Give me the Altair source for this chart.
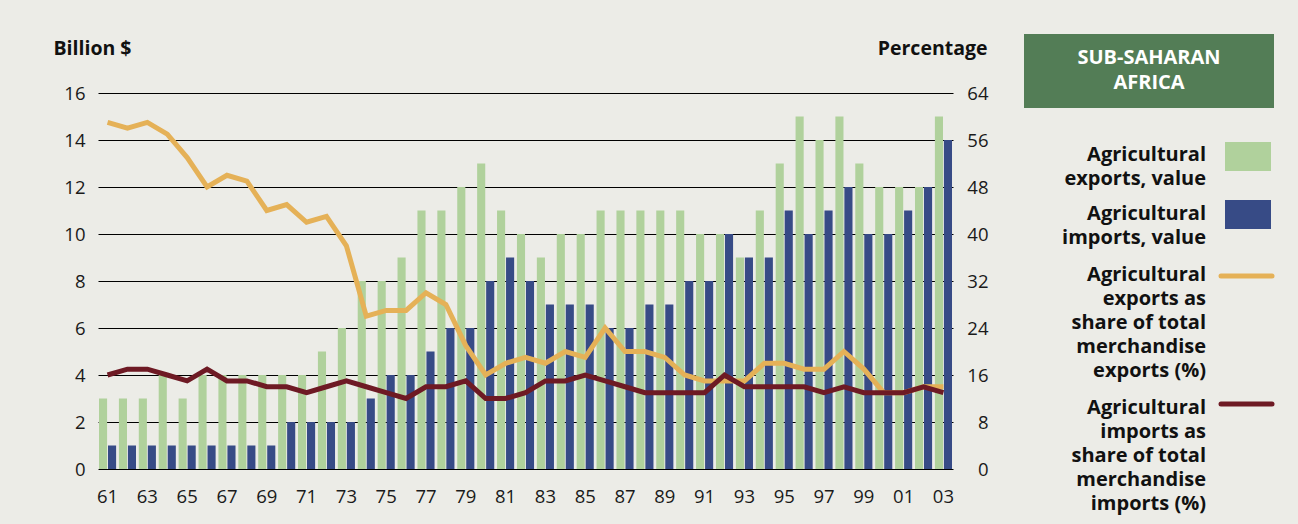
import altair as alt
import pandas as pd
import jinja2

years = list(range(1961, 2004))
exports_value = [3, 3, 3, 4, 3, 4, 4, 4, 4, 4, 4, 5, 6, 8, 8,
                 9, 11, 11, 12, 13, 11, 10, 9, 10, 10, 11, 11, 11, 11, 11,
                 10, 10, 9, 11, 13, 15, 14, 15, 13, 12, 12, 12, 15]
imports_value = [1, 1, 1, 1, 1, 1, 1, 1, 1, 2, 2, 2, 2, 3, 4,
                 4, 5, 6, 6, 8, 9, 8, 7, 7, 7, 6, 6, 7, 7, 8,
                 8, 10, 9, 9, 11, 10, 11, 12, 10, 10, 11, 12, 14]
exports_share = [59, 58, 59, 57, 53, 48, 50, 49, 44, 45, 42, 43, 38, 26, 27,
                 27, 30, 28, 21, 16, 18, 19, 18, 20, 19, 24, 20, 20, 19, 16,
                 15, 15, 15, 18, 18, 17, 17, 20, 17, 13, 13, 14, 14]
imports_share = [16, 17, 17, 16, 15, 17, 15, 15, 14, 14, 13, 14, 15, 14, 13,
                 12, 14, 14, 15, 12, 12, 13, 15, 15, 16, 15, 14, 13, 13, 13,
                 13, 16, 14, 14, 14, 14, 13, 14, 13, 13, 13, 14, 13]

bar_series = ["Agricultural exports, value", "Agricultural imports, value"]
line_series = ["Agricultural exports as share of total merchandise exports (%)",
               "Agricultural imports as share of total merchandise imports (%)"]

GREEN = "#B0D19C"
BLUE = "#374B86"
ORANGE = "#E5B157"
RED = "#6E1A24"
HEADER = "#537D56"
BG = "#ECECE7"
FONT = "Open Sans"
TXT = "#1a1a1a"

bars_df = pd.DataFrame({
    "year": years * 2,
    "series": [bar_series[0]] * len(years) + [bar_series[1]] * len(years),
    "value": exports_value + imports_value,
})
lines_df = pd.DataFrame({
    "year": years * 2,
    "series": [line_series[0]] * len(years) + [line_series[1]] * len(years),
    "value": exports_share + imports_share,
})
dummy = pd.DataFrame({"a": [0]})

x = alt.X(
    "year:O",
    scale=alt.Scale(paddingInner=0.14, paddingOuter=0.05),
    axis=alt.Axis(
        title=None, labelAngle=0, ticks=False, domain=False, grid=False,
        labelExpr="datum.value % 2 == 1 ? slice(toString(datum.value), 2) : ''",
        labelPadding=18, labelFontSize=18.5, labelColor=TXT, labelFont=FONT,
    ),
)

bars = alt.Chart(bars_df).mark_bar().encode(
    x=x,
    xOffset=alt.XOffset("series:N", sort=bar_series,
                        scale=alt.Scale(paddingInner=0.1, paddingOuter=0)),
    y=alt.Y(
        "value:Q",
        scale=alt.Scale(domain=[0, 16]),
        axis=alt.Axis(
            orient="left", values=list(range(0, 17, 2)), grid=True,
            gridColor="#000000", gridWidth=1, gridOpacity=1, ticks=False, domain=False,
            labelPadding=13, labelFontSize=18.5, labelColor=TXT, labelFont=FONT,
            title="Billion $", titleAngle=0, titleX=-45, titleY=-45,
            titleAlign="left", titleBaseline="middle", titleFontSize=19.5,
            titleFont=FONT, titleFontWeight="bold", titleColor="#111111",
        ),
    ),
    color=alt.Color("series:N", scale=alt.Scale(domain=bar_series, range=[GREEN, BLUE]),
                    legend=None),
)

lines = alt.Chart(lines_df).mark_line(strokeWidth=5, strokeJoin="miter").encode(
    x=x,
    y=alt.Y(
        "value:Q",
        scale=alt.Scale(domain=[0, 64]),
        axis=alt.Axis(
            orient="right", values=list(range(0, 65, 8)), grid=False,
            ticks=False, domain=False, labelAlign="right",
            labelPadding=35, labelFontSize=18.5, labelColor=TXT, labelFont=FONT,
            title="Percentage", titleAngle=0, titleX=34, titleY=-45,
            titleAlign="right", titleBaseline="middle", titleFontSize=19.5,
            titleFont=FONT, titleFontWeight="bold", titleColor="#111111",
        ),
    ),
    color=alt.Color("series:N", scale=alt.Scale(domain=line_series, range=[ORANGE, RED]),
                    legend=None),
)

# legend / header decoration
header_box = alt.Chart(dummy).mark_rect(color=HEADER).encode(
    x=alt.value(926), x2=alt.value(1176), y=alt.value(-59), y2=alt.value(15))
header_text = alt.Chart(dummy).mark_text(
    text="SUB-SAHARAN\nAFRICA", lineBreak="\n", lineHeight=25.5, font=FONT,
    fontSize=20, fontWeight="bold", color="white", align="center", baseline="middle",
).encode(x=alt.value(1051), y=alt.value(-35.5))


def legend_label(text, y_first):
    return alt.Chart(dummy).mark_text(
        text=text, lineBreak="\n", lineHeight=24, font=FONT, fontSize=20,
        fontWeight="bold", color="#111111", align="right", baseline="middle",
    ).encode(x=alt.value(1108), y=alt.value(y_first))


lab1 = legend_label("Agricultural\nexports, value", 62)
lab2 = legend_label("Agricultural\nimports, value", 121)
lab3 = legend_label("Agricultural\nexports as\nshare of total\nmerchandise\nexports (%)", 182)
lab4 = legend_label("Agricultural\nimports as\nshare of total\nmerchandise\nimports (%)", 315)

sw1 = alt.Chart(dummy).mark_rect(color=GREEN).encode(
    x=alt.value(1127), x2=alt.value(1173), y=alt.value(49), y2=alt.value(78))
sw2 = alt.Chart(dummy).mark_rect(color=BLUE).encode(
    x=alt.value(1127), x2=alt.value(1173), y=alt.value(107), y2=alt.value(136))
sw3 = alt.Chart(dummy).mark_rule(color=ORANGE, strokeWidth=5, strokeCap="round").encode(
    x=alt.value(1123), x2=alt.value(1174), y=alt.value(183))
sw4 = alt.Chart(dummy).mark_rule(color=RED, strokeWidth=5, strokeCap="round").encode(
    x=alt.value(1123), x2=alt.value(1174), y=alt.value(311))

chart = alt.layer(
    bars, lines, header_box, header_text, lab1, lab2, lab3, lab4, sw1, sw2, sw3, sw4
).resolve_scale(y="independent", color="independent").properties(
    width=855, height=376, autosize="none",
    padding={"left": 90, "top": 85, "right": 337, "bottom": 47},
    background=BG,
).configure_view(stroke=None)

PAGE_TEMPLATE = jinja2.Template("""<!DOCTYPE html>
<html>
<head>
  <meta charset="utf-8">
  <style>html, body { background: """ + BG + """; }</style>
  <script type="text/javascript" src="{{ base_url }}/vega@{{ vega_version }}"></script>
  <script type="text/javascript" src="{{ base_url }}/vega-lite@{{ vegalite_version }}"></script>
  <script type="text/javascript" src="{{ base_url }}/vega-embed@{{ vegaembed_version }}"></script>
</head>
<body>
  <div id="{{ output_div }}"></div>
  <script type="text/javascript">
    (function(vegaEmbed) {
      var spec = {{ spec }};
      var embedOpt = {{ embed_options }};
      vegaEmbed("#{{ output_div }}", spec, embedOpt).catch(function(err) {
        document.getElementById("{{ output_div }}").innerHTML = '<pre style="color:red">' + err + '</pre>';
      });
    })(vegaEmbed);
  </script>
</body>
</html>
""")

try:
    chart.save("out.html", embed_options={"renderer": "svg", "actions": False},
               template=PAGE_TEMPLATE)
except Exception:
    chart.save("out.html", embed_options={"renderer": "svg", "actions": False})
